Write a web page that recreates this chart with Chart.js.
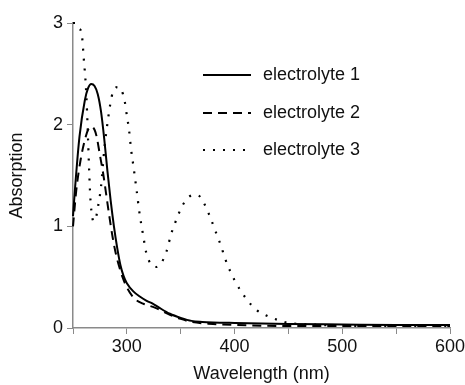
<!DOCTYPE html>
<html>
<head>
<meta charset="utf-8">
<script src="https://cdn.jsdelivr.net/npm/chart.js@4.4.1/dist/chart.umd.min.js"></script>
<style>
  html, body { margin: 0; padding: 0; background: #fff; }
  #wrap { width: 465px; height: 385px; }
</style>
</head>
<body>
<div id="wrap"><canvas id="chart" width="465" height="385"></canvas></div>
<script>
/* global Chart */

// electrolyte 1 (solid)
var wl1 = [250, 252, 256, 261, 264, 267, 270, 273, 276, 279, 282, 285, 288, 291, 294, 297, 300, 306, 312, 318, 324, 330, 340, 350, 360, 370, 380, 400, 450, 500, 550, 600];
var abs1 = [1.1, 1.39, 1.88, 2.24, 2.36, 2.4, 2.38, 2.3, 2.13, 1.86, 1.54, 1.25, 1.0, 0.79, 0.62, 0.51, 0.44, 0.36, 0.31, 0.27, 0.24, 0.2, 0.14, 0.1, 0.07, 0.06, 0.055, 0.05, 0.04, 0.035, 0.03, 0.03];

// electrolyte 2 (dashed)
var wl2 = [250, 253, 257, 261, 264, 267, 270, 272, 275, 278, 281, 284, 287, 290, 293, 296, 300, 307, 315, 326, 340, 350, 360, 380, 400, 450, 500, 550, 600];
var abs2 = [1.0, 1.35, 1.65, 1.85, 1.95, 1.98, 1.95, 1.88, 1.7, 1.52, 1.3, 1.08, 0.88, 0.72, 0.6, 0.5, 0.4, 0.29, 0.24, 0.2, 0.13, 0.09, 0.06, 0.04, 0.03, 0.02, 0.02, 0.02, 0.02];

// electrolyte 3 (dotted)
var wl3 = [250, 252, 255, 258, 260, 262, 263, 264, 265, 266, 267, 269, 271, 273, 276, 279, 283, 286, 289, 292, 295, 298, 300, 302, 304, 306, 309, 312, 315, 318, 323, 327, 332, 337, 341, 345, 350, 355, 362, 367, 372, 377, 382, 387, 392, 400, 410, 420, 430, 440, 450, 460, 480, 500, 550, 600];
var abs3 = [3.0, 3.0, 2.95, 2.9, 2.65, 2.37, 2.14, 1.85, 1.55, 1.3, 1.16, 1.05, 1.07, 1.18, 1.39, 1.75, 2.09, 2.28, 2.36, 2.37, 2.34, 2.23, 2.09, 1.95, 1.75, 1.6, 1.36, 1.11, 0.92, 0.74, 0.62, 0.6, 0.64, 0.76, 0.92, 1.04, 1.17, 1.26, 1.31, 1.3, 1.22, 1.1, 0.96, 0.82, 0.66, 0.47, 0.3, 0.18, 0.12, 0.08, 0.05, 0.04, 0.03, 0.02, 0.02, 0.02];

var labels = ["electrolyte 1", "electrolyte 2", "electrolyte 3"];
var xTicks = [300, 400, 500, 600];
var yTicks = [0, 1, 2, 3];

var FONT = "'Liberation Sans', Arial, sans-serif";
var AXIS_GREY = "#8a8a8a";

function pairs(xs, ys) {
  return xs.map(function(x, i) { return { x: x, y: ys[i] }; });
}

// legend drawn inside the plot, one entry per row
var insideLegend = {
  id: "insideLegend",
  afterDraw: function(chart) {
    var ctx = chart.ctx;
    var rows = [75, 113, 150];
    ctx.save();
    chart.data.datasets.forEach(function(ds, i) {
      var y = rows[i];
      ctx.strokeStyle = ds.borderColor;
      ctx.lineWidth = ds.borderWidth;
      ctx.setLineDash(ds.borderDash || []);
      ctx.beginPath();
      ctx.moveTo(203, y);
      ctx.lineTo(251, y);
      ctx.stroke();
      ctx.setLineDash([]);
      ctx.fillStyle = "#111";
      ctx.font = "18px " + FONT;
      ctx.textBaseline = "middle";
      ctx.fillText(ds.label, 263, y);
    });
    ctx.restore();
  }
};

var ctx = document.getElementById("chart").getContext("2d");

new Chart(ctx, {
  type: "line",
  data: {
    datasets: [
      { label: labels[0], data: pairs(wl1, abs1), borderColor: "#000", borderWidth: 2, borderDash: [] },
      { label: labels[1], data: pairs(wl2, abs2), borderColor: "#000", borderWidth: 2, borderDash: [9, 6] },
      { label: labels[2], data: pairs(wl3, abs3), borderColor: "#000", borderWidth: 2.2, borderDash: [2, 8] }
    ]
  },
  options: {
    responsive: false,
    animation: false,
    clip: 4,
    layout: { padding: { left: 6, right: 15, top: 23, bottom: 0 } },
    elements: {
      point: { radius: 0 },
      line: { cubicInterpolationMode: "monotone", fill: false }
    },
    plugins: {
      legend: { display: false },
      tooltip: { enabled: false }
    },
    scales: {
      x: {
        type: "linear",
        min: 250,
        max: 600,
        afterFit: function(scale) {
          scale.height = 57;
          scale.paddingRight = 0;
          scale.paddingLeft = 0;
        },
        afterBuildTicks: function(scale) {
          var t = [];
          for (var v = 250; v <= 600; v += 50) t.push({ value: v });
          scale.ticks = t;
        },
        ticks: {
          color: "#111",
          font: { size: 18, family: FONT },
          padding: 2,
          maxRotation: 0,
          autoSkip: false,
          callback: function(v) { return xTicks.indexOf(v) >= 0 ? String(v) : ""; }
        },
        grid: { drawOnChartArea: false, drawTicks: true, tickLength: 6, color: AXIS_GREY },
        border: { color: AXIS_GREY, width: 1.5 },
        title: { display: true, text: "Wavelength (nm)", color: "#111", font: { size: 18, family: FONT }, padding: { top: 2, bottom: 0 } }
      },
      y: {
        min: 0,
        max: 3,
        afterFit: function(scale) { scale.width = 67; },
        afterBuildTicks: function(scale) {
          scale.ticks = yTicks.map(function(v) { return { value: v }; });
        },
        ticks: {
          color: "#111",
          font: { size: 18, family: FONT },
          padding: 4
        },
        grid: { drawOnChartArea: false, drawTicks: true, tickLength: 6, color: AXIS_GREY },
        border: { color: AXIS_GREY, width: 1.5 },
        title: { display: true, text: "Absorption", color: "#111", font: { size: 18, family: FONT }, padding: 0 }
      }
    }
  },
  plugins: [insideLegend]
});
</script>
</body>
</html>
